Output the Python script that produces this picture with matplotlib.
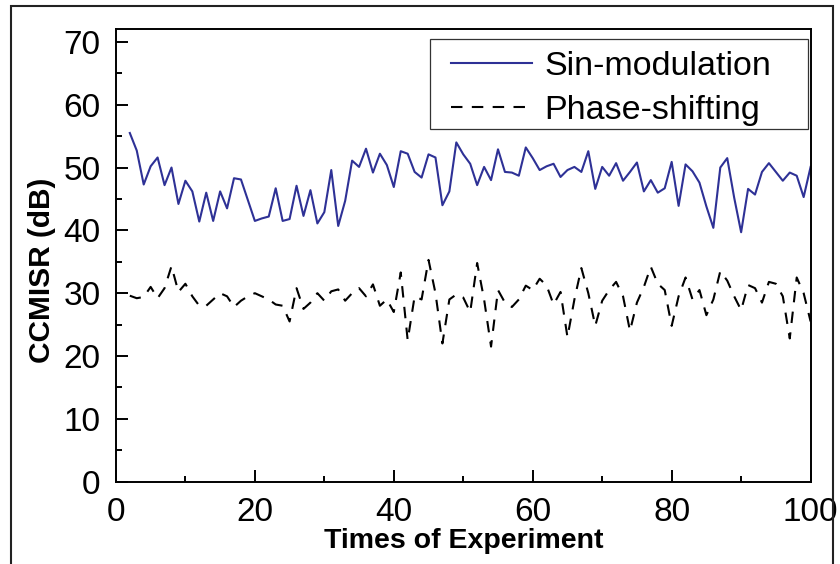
import matplotlib
matplotlib.use("Agg")
import matplotlib.pyplot as plt
from matplotlib.patches import Rectangle
from matplotlib.ticker import MultipleLocator

# experiment index (both series start at run 2)
runs = list(range(2, 101))

sin_modulation = [
    55.5, 52.7, 47.3, 50.2, 51.6, 47.2, 50.0, 44.2, 47.9, 46.2,
    41.4, 46.0, 41.5, 46.2, 43.5, 48.3, 48.1, 44.8, 41.5, 41.9,
    42.2, 46.7, 41.5, 41.8, 47.1, 42.3, 46.4, 41.1, 42.9, 49.6,
    40.7, 44.7, 51.1, 50.1, 53.0, 49.2, 52.2, 50.4, 46.9, 52.6,
    52.2, 49.3, 48.4, 52.1, 51.6, 44.0, 46.2, 54.0, 52.1, 50.6,
    47.2, 50.1, 48.0, 52.9, 49.3, 49.2, 48.7, 53.2, 51.5, 49.6,
    50.2, 50.6, 48.5, 49.6, 50.1, 49.3, 52.6, 46.6, 50.1, 48.7,
    50.7, 47.9, 49.3, 50.8, 46.2, 48.0, 46.0, 46.7, 50.9, 43.9,
    50.5, 49.4, 47.6, 43.8, 40.4, 50.0, 51.5, 45.2, 39.7, 46.6,
    45.7, 49.3, 50.7, 49.3, 47.9, 49.2, 48.7, 45.3, 50.1,
]

phase_shifting = [
    29.6, 29.2, 29.4, 31.0, 29.2, 30.8, 34.3, 30.2, 31.5, 29.5,
    28.0, 28.0, 29.0, 30.0, 29.5, 27.8, 28.8, 29.5, 30.0, 29.5,
    29.0, 28.2, 28.0, 25.5, 30.8, 27.5, 28.5, 30.0, 28.8, 30.3,
    30.6, 28.8, 30.0, 30.8, 29.5, 31.4, 28.0, 29.0, 27.0, 33.3,
    22.5, 29.5, 29.0, 35.3, 30.0, 22.0, 29.0, 29.8, 29.3, 27.0,
    34.8, 29.0, 21.5, 30.5, 28.5, 27.8, 29.0, 31.2, 30.5, 32.3,
    31.2, 28.2, 30.2, 23.0, 29.0, 34.0, 30.0, 24.8, 28.8, 30.5,
    31.8, 29.5, 24.0, 28.5, 31.0, 34.2, 31.5, 30.5, 24.8, 29.5,
    32.5, 29.0, 30.5, 26.5, 29.0, 33.5, 32.0, 29.5, 27.3, 31.3,
    30.8, 28.5, 31.8, 31.5, 29.5, 22.8, 32.5, 30.0, 25.5,
]

labels = ["Sin-modulation", "Phase-shifting"]

plt.rcParams["font.family"] = ["Liberation Sans", "DejaVu Sans"]

fig = plt.figure(figsize=(8.4, 5.64), dpi=100)
ax = fig.add_axes([0.138, 0.146, 0.827, 0.802])

ax.plot(runs, sin_modulation, color="#2E3196", lw=1.5, label=labels[0])
ax.plot(runs, phase_shifting, color="black", lw=1.5, linestyle=(0, (5.5, 4.5)),
        label=labels[1])

ax.set_xlim(0, 100)
ax.set_ylim(0, 72)
ax.xaxis.set_major_locator(MultipleLocator(20))
ax.xaxis.set_minor_locator(MultipleLocator(10))
ax.yaxis.set_major_locator(MultipleLocator(10))
ax.yaxis.set_minor_locator(MultipleLocator(5))
ax.tick_params(which="both", direction="in", width=1.4, labelsize=24)
ax.tick_params(axis="x", pad=11)
ax.tick_params(axis="y", pad=11)
ax.tick_params(which="major", length=8.5)
ax.tick_params(which="minor", length=4.5)
ax.tick_params(top=False, right=False)
for s in ax.spines.values():
    s.set_linewidth(1.4)

ax.set_xlabel("Times of Experiment", fontsize=20.5, fontweight="bold", labelpad=0)
ax.set_ylabel("CCMISR (dB)", fontsize=21.5, fontweight="bold")
ax.yaxis.set_label_coords(-0.086, 0.468)

# legend entries without frame, box drawn separately (wider than the text)
leg = ax.legend(loc="upper left", bbox_to_anchor=(0.482, 0.953), fontsize=24.5,
                frameon=False, handlelength=2.4, handletextpad=0.35,
                borderpad=0, borderaxespad=0, labelspacing=0.4)
ax.add_patch(Rectangle((0.452, 0.779), 0.544, 0.199, transform=ax.transAxes,
                       fill=False, edgecolor="#333333", lw=0.9, zorder=5))

# outer border around the whole figure
fig.patches.append(Rectangle((11 / 840, -0.05), 822 / 840, 1.05 - 6 / 564,
                             transform=fig.transFigure, fill=False,
                             edgecolor="#222222", lw=1.5))

plt.savefig("out.png", dpi=100)
